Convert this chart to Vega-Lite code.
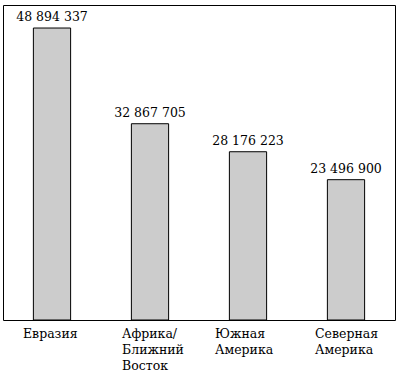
{
  "$schema": "https://vega.github.io/schema/vega-lite/v6.json",
  "width": 392,
  "height": 315,
  "autosize": "none",
  "padding": {"left": 3, "top": 5, "right": 3, "bottom": 52},
  "background": "white",
  "config": {
    "view": {"stroke": "black", "strokeWidth": 1},
    "font": "DejaVu Serif",
    "locale": {"number": {"decimal": ",", "thousands": " ", "grouping": [3], "currency": ["", ""]}}
  },
  "data": {
    "values": [
      {"region": "Евразия", "value": 48894337},
      {"region": "Африка/|Ближний|Восток", "value": 32867705},
      {"region": "Южная|Америка", "value": 28176223},
      {"region": "Северная|Америка", "value": 23496900}
    ]
  },
  "encoding": {
    "x": {
      "field": "region",
      "type": "nominal",
      "sort": null,
      "scale": {"paddingInner": 0.62, "paddingOuter": 0.31},
      "axis": {
        "title": null,
        "domain": false,
        "ticks": false,
        "labelAngle": 0,
        "labelExpr": "split(datum.value, '|')",
        "labelFont": "DejaVu Serif",
        "labelFontSize": 12.5,
        "labelColor": "black",
        "labelAlign": "left",
        "labelOffset": {
          "condition": [
            {"test": "datum.value == 'Евразия'", "value": -29},
            {"test": "datum.value == 'Африка/|Ближний|Восток'", "value": -28},
            {"test": "datum.value == 'Южная|Америка'", "value": -33}
          ],
          "value": -31
        },
        "labelBaseline": "top",
        "labelPadding": 7,
        "labelLineHeight": 16
      }
    },
    "y": {
      "field": "value",
      "type": "quantitative",
      "scale": {"domain": [0, 52750000], "nice": false},
      "axis": null
    }
  },
  "layer": [
    {
      "mark": {"type": "bar", "fill": "#cccccc", "stroke": "black", "strokeWidth": 1}
    },
    {
      "mark": {"type": "text", "baseline": "alphabetic", "dy": -7, "font": "DejaVu Serif", "fontSize": 12.5, "color": "black"},
      "encoding": {
        "text": {"field": "value", "type": "quantitative", "format": ",d"}
      }
    }
  ]
}
